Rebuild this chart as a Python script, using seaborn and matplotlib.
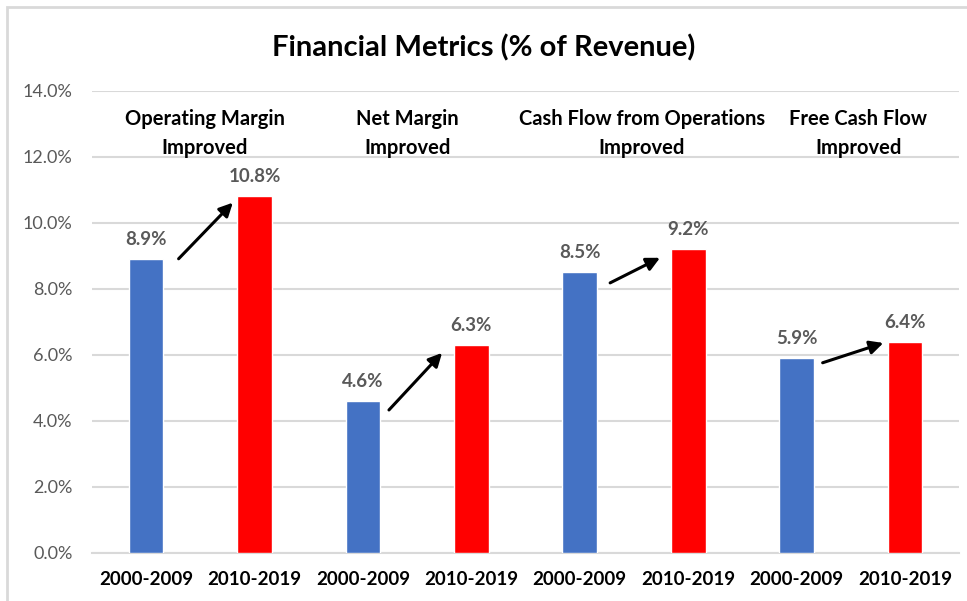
import matplotlib
matplotlib.use('Agg')
import matplotlib.pyplot as plt
import seaborn as sns
import pandas as pd
from matplotlib.patches import Rectangle
from matplotlib.ticker import PercentFormatter

periods = ['2000-2009', '2010-2019'] * 4
values = [8.9, 10.8, 4.6, 6.3, 8.5, 9.2, 5.9, 6.4]
headers = ['Operating Margin\nImproved', 'Net Margin\nImproved',
           'Cash Flow from Operations\nImproved', 'Free Cash Flow\nImproved']
header_x = [0.54, 2.41, 4.57, 6.57]
# arrow start / end (x, y) in data units
arrow_start = [(0.30, 8.91), (2.24, 4.33), (4.28, 8.18), (6.24, 5.76)]
arrow_end = [(0.80, 10.61), (2.73, 6.06), (4.74, 8.94), (6.80, 6.36)]

colors = {'2000-2009': '#4472C4', '2010-2019': '#FF0000'}

sns.set_style('white')
plt.rcParams['font.family'] = ['Lato', 'DejaVu Sans']

df = pd.DataFrame({'pos': range(len(values)), 'period': periods, 'value': values})

fig = plt.figure(figsize=(9.67, 6.01), dpi=100)
ax = fig.add_axes([0.095, 0.08, 0.897, 0.769])

sns.barplot(data=df, x='pos', y='value', hue='period', palette=colors,
            saturation=1, dodge=False, width=0.32, legend=False, ax=ax, zorder=3)

ax.set_ylim(0, 14)
ax.set_xlim(-0.5, 7.5)
ax.set_yticks(range(0, 15, 2))
ax.yaxis.set_major_formatter(PercentFormatter(decimals=1))
ax.grid(axis='y', color='#d9d9d9', linewidth=1.5, zorder=0)
ax.set_xticks(range(len(values)))
ax.set_xticklabels(periods, fontsize=13.5, fontweight='bold', color='black')
ax.tick_params(axis='y', labelsize=13, labelcolor='#595959', length=0, pad=14)
ax.tick_params(axis='x', length=0, pad=13)
ax.set_xlabel('')
ax.set_ylabel('')
sns.despine(ax=ax, left=True, right=True, top=True)
ax.spines['bottom'].set_color('#d9d9d9')
ax.spines['bottom'].set_linewidth(1.5)

for i, v in enumerate(values):
    ax.annotate(f'{v:.1f}%', (i, v), xytext=(0, 8), textcoords='offset points',
                ha='center', va='bottom', fontsize=13.5, fontweight='bold', color='#595959')

for x, h in zip(header_x, headers):
    ax.text(x, 12.7, h, ha='center', va='center', fontsize=14.5, fontweight='bold',
            color='black', linespacing=1.55)

for s, e in zip(arrow_start, arrow_end):
    ax.annotate('', xy=e, xytext=s,
                arrowprops=dict(arrowstyle='-|>', color='black', lw=2.2,
                                mutation_scale=20, shrinkA=0, shrinkB=0))

fig.text(0.5, 0.92, 'Financial Metrics (% of Revenue)', ha='center', va='center',
         fontsize=21, fontweight='bold', color='black')

fig.patches.append(Rectangle((7 / 967, -0.01), 1.0, 1 - 7 / 601 + 0.01,
                             transform=fig.transFigure, fill=False,
                             edgecolor='#d9d9d9', linewidth=2))

fig.savefig('out.png', dpi=100)
